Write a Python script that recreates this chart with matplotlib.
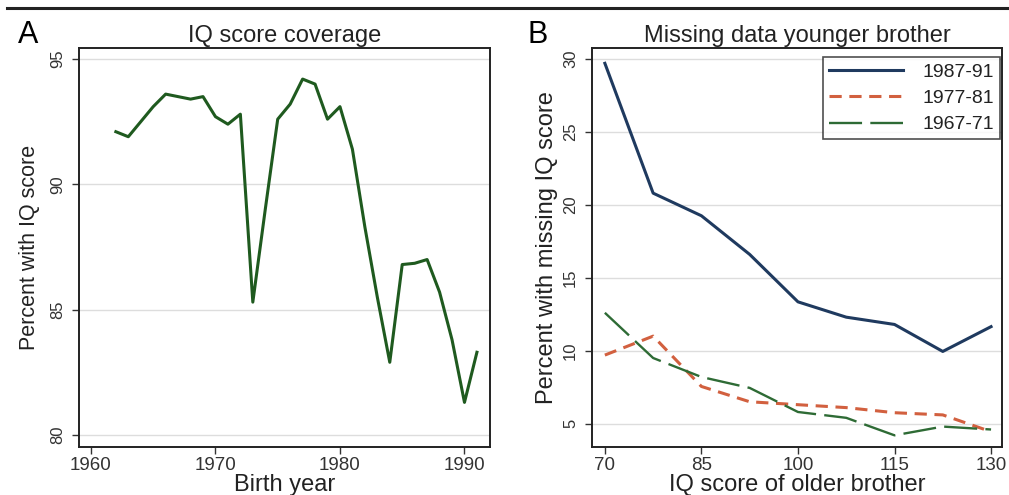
import matplotlib.pyplot as plt
import numpy as np

plt.rcParams["font.family"] = "Liberation Sans"

# panel A: IQ score coverage by birth year
years = list(range(1962, 1992))
coverage = [92.1, 91.9, 92.5, 93.1, 93.6, 93.5, 93.4, 93.5, 92.7, 92.4,
            92.8, 85.3, 89.0, 92.6, 93.2, 94.2, 94.0, 92.6, 93.1, 91.4,
            88.3, 85.5, 82.9, 86.8, 86.85, 87.0, 85.7, 83.8, 81.3, 83.3]

# panel B: missing data younger brother
iq_older = [70, 77.5, 85, 92.5, 100, 107.5, 115, 122.5, 130]
miss_8791 = [29.7, 20.8, 19.25, 16.6, 13.35, 12.3, 11.8, 9.95, 11.65]
miss_7781 = [9.7, 11.0, 7.55, 6.5, 6.3, 6.1, 5.75, 5.6, 4.45]
miss_6771 = [12.6, 9.5, 8.2, 7.45, 5.8, 5.4, 4.2, 4.8, 4.6]

fig = plt.figure(figsize=(10.09, 4.95), dpi=100)
W, H = 1009, 495
axA = fig.add_axes([79 / W, 1 - 447 / H, (490 - 79) / W, (447 - 48) / H])
axB = fig.add_axes([592 / W, 1 - 447 / H, (1002 - 592) / W, (447 - 48) / H])

# top rule
fig.add_artist(plt.Line2D([7 / W, 1.0], [1 - 8 / H, 1 - 8 / H], color="#222222", lw=2.2))

def style(ax):
    ax.grid(axis="y", color="#dddddd", lw=1)
    ax.set_axisbelow(True)
    for s in ax.spines.values():
        s.set_color("#222222")
        s.set_linewidth(1.4)
    ax.tick_params(axis="x", labelsize=13.5, colors="#333333", length=5, width=1, pad=2)
    ax.tick_params(axis="y", labelsize=12, colors="#333333", length=5, width=1, pad=5,
                   labelrotation=90)
    for lab in ax.get_yticklabels():
        lab.set_va("center")

axA.plot(years, coverage, color="#1f5a1f", lw=2.2)
axA.set_xlim(1959.04, 1992.05)
axA.set_ylim(79.52, 95.44)
axA.set_xticks([1960, 1970, 1980, 1990])
axA.set_yticks([80, 85, 90, 95])
style(axA)
axA.set_title("IQ score coverage", fontsize=17, pad=4, color="#222222")
axA.set_xlabel("Birth year", fontsize=17, labelpad=0, color="#222222")
axA.set_ylabel("Percent with IQ score", fontsize=15.5, labelpad=7, color="#222222")

axB.plot(iq_older, miss_8791, color="#1f3a5f", lw=2.2, label="1987-91")
axB.plot(iq_older, miss_7781, color="#d2603f", lw=2.2, ls=(0, (4, 2.5)), label="1977-81")
axB.plot(iq_older, miss_6771, color="#2e6b35", lw=1.7, ls=(0, (14, 3.5)), label="1967-71")
axB.set_xlim(68, 131.7)
axB.set_ylim(3.4, 30.75)
axB.set_xticks([70, 85, 100, 115, 130])
axB.set_yticks([5, 10, 15, 20, 25, 30])
style(axB)
axB.set_title("Missing data younger brother", fontsize=17, pad=4, color="#222222")
axB.set_xlabel("IQ score of older brother", fontsize=17, labelpad=0, color="#222222")
axB.set_ylabel("Percent with missing IQ score", fontsize=17, labelpad=4, color="#222222")
leg = axB.legend(loc="upper right", fontsize=14, frameon=True, fancybox=False,
                 edgecolor="#222222", handlelength=3.8, borderpad=0.3,
                 labelspacing=0.45, handletextpad=1.0, borderaxespad=0,
                 bbox_to_anchor=(0.995, 0.977))
leg.get_frame().set_linewidth(1.2)
for t in leg.get_texts():
    t.set_color("#222222")

fig.text(18 / W, 1 - 35 / H, "A", fontsize=22, va="center", ha="left")
fig.text(528 / W, 1 - 35 / H, "B", fontsize=22, va="center", ha="left")

fig.savefig("out.png", dpi=100)
